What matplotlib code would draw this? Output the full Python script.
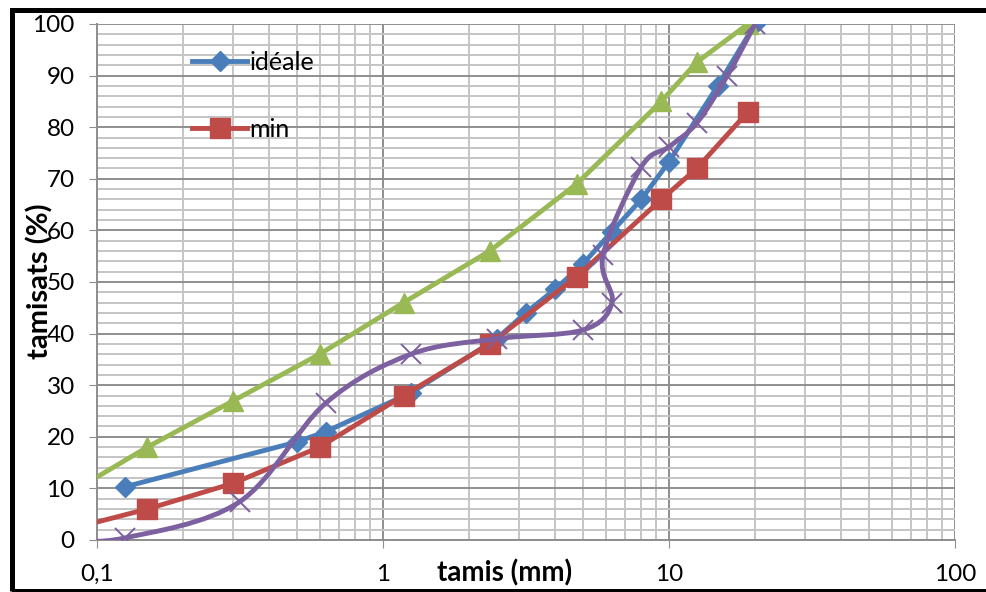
import numpy as np
import matplotlib.pyplot as plt
from matplotlib.path import Path
from matplotlib.patches import PathPatch, Rectangle
from matplotlib.ticker import LogLocator, MultipleLocator, FixedLocator, FuncFormatter

plt.rcParams['font.family'] = ['Lato', 'DejaVu Sans']

# courbe idéale
ideale_x = [0.125, 0.5, 0.63, 1.25, 2.5, 3.15, 4, 5, 6.3, 8, 10, 14.8, 20]
ideale_y = [10.3, 19, 21, 28.5, 39, 44, 48.6, 53.5, 59.7, 66, 73.3, 88, 100]

# fuseau min / max
fuseau_x = [0.08, 0.15, 0.3, 0.6, 1.18, 2.36, 4.75, 9.4, 12.5, 18.9]
min_y = [2.1, 6, 11, 18, 28, 38, 51, 66, 72, 83]
max_y = [9, 18, 27, 36, 46, 56, 69, 85, 92.6, 100]

# mélange
melange_x = [0.08, 0.125, 0.315, 0.63, 1.25, 2.5, 5, 6.32, 5.88, 8, 10, 12.5, 16, 20]
melange_y = [0, 0.4, 7.4, 26.5, 36, 39, 40.7, 46, 55.2, 72.3, 76.2, 80.8, 90, 100]

BLUE = '#4A7EBB'
RED = '#BE4B48'
GREEN = '#98B954'
PURPLE = '#7D60A0'


def smooth_path(xs, ys):
    """courbe lissée façon Excel (bezier dans l'espace de l'écran)"""
    p = np.column_stack([np.log10(xs), ys])
    n = len(p)
    verts = [p[0]]
    codes = [Path.MOVETO]
    for i in range(n - 1):
        a = p[max(i - 1, 0)]
        b = p[min(i + 2, n - 1)]
        c1 = p[i] + (p[i + 1] - a) / 6
        c2 = p[i + 1] - (b - p[i]) / 6
        verts += [c1, c2, p[i + 1]]
        codes += [Path.CURVE4] * 3
    verts = np.array(verts)
    verts[:, 0] = 10 ** verts[:, 0]
    return Path(verts, codes)


fig = plt.figure(figsize=(9.86, 5.92), dpi=100)
ax = fig.add_axes([97 / 986, 52 / 592, 858 / 986, 516 / 592])

ax.set_xscale('log')
ax.set_xlim(0.1, 100)
ax.set_ylim(0, 100)

ax.xaxis.set_major_locator(FixedLocator([0.1, 1, 10, 100]))
ax.xaxis.set_minor_locator(LogLocator(base=10, subs=np.arange(2, 10)))
ax.xaxis.set_major_formatter(FuncFormatter(lambda v, p: ('%g' % v).replace('.', ',')))
ax.xaxis.set_minor_formatter(FuncFormatter(lambda v, p: ''))
ax.yaxis.set_major_locator(MultipleLocator(10))
ax.yaxis.set_minor_locator(MultipleLocator(2))

ax.grid(which='minor', color='#C4C4C4', lw=1.4)
ax.grid(which='major', color='#8E8E8E', lw=1.4)
ax.set_axisbelow(True)

for s in ['top', 'right']:
    ax.spines[s].set_visible(False)
for s in ['left', 'bottom']:
    ax.spines[s].set_color('#8E8E8E')
    ax.spines[s].set_linewidth(1.4)

ax.tick_params(which='major', length=6, color='#8E8E8E', labelsize=17.5, pad=10)
ax.tick_params(which='minor', length=0)
ax.tick_params(axis='x', pad=11)

l1, = ax.plot(ideale_x, ideale_y, color=BLUE, lw=3.5, marker='D', ms=10,
              label='idéale', zorder=3)
l2, = ax.plot(fuseau_x, min_y, color=RED, lw=3.5, marker='s', ms=14,
              label='min', zorder=4)
ax.plot(fuseau_x, max_y, color=GREEN, lw=3.5, marker='^', ms=14, zorder=5)

ax.add_patch(PathPatch(smooth_path(melange_x, melange_y), fill=False,
                       ec=PURPLE, lw=3.5, zorder=6))
ax.plot(melange_x, melange_y, ls='none', marker='x', ms=14, mew=1.4,
        color=PURPLE, zorder=7)

ax.legend(handles=[l1, l2], loc='upper left', bbox_to_anchor=(192 / 986, 1 - 51 / 592),
          bbox_transform=fig.transFigure, frameon=False, fontsize=18,
          handlelength=2.2, handletextpad=0.1, labelspacing=1.75,
          borderpad=0, borderaxespad=0)

fig.text(505 / 986, 1 - 573 / 592, 'tamis (mm)', fontsize=20, fontweight='bold',
         ha='center', va='center')
fig.text(40 / 986, 1 - 281 / 592, 'tamisats (%)', fontsize=21, fontweight='bold',
         rotation=90, ha='center', va='center')

fig.add_artist(Rectangle((11.5 / 986, 1 - 591 / 592), 1.2, 581 / 592,
                         transform=fig.transFigure, fill=False, ec='black',
                         lw=3.6, clip_on=False))

fig.savefig('out.png', dpi=100)
